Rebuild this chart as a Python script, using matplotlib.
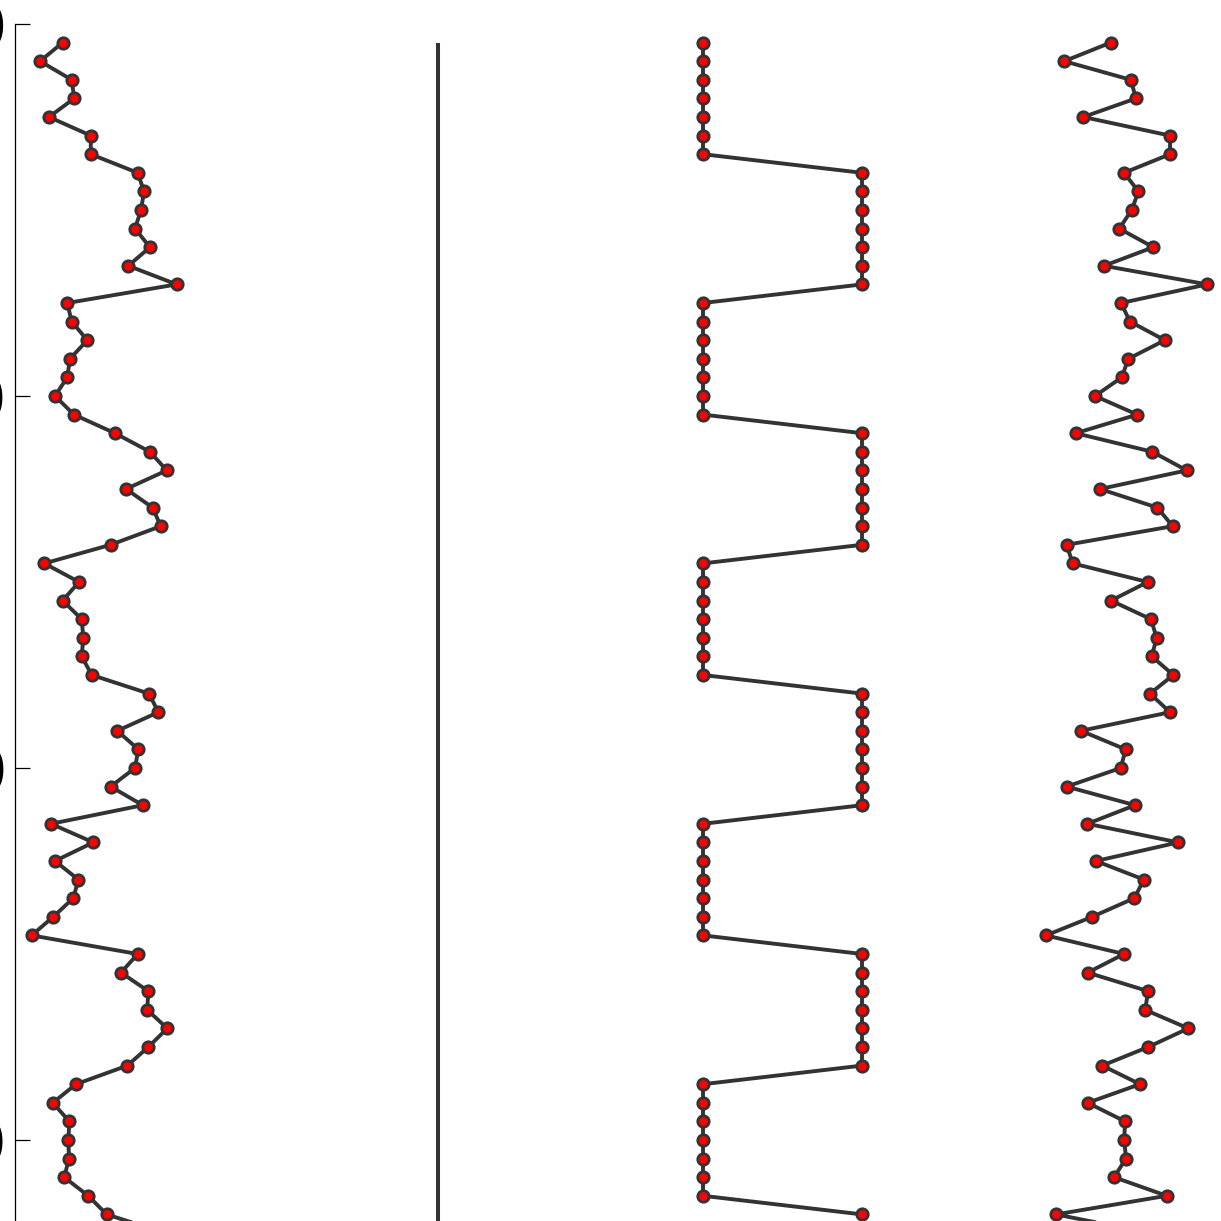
import numpy as np
import matplotlib
matplotlib.use("Agg")
import matplotlib.pyplot as plt

# ---- data (index runs down the y axis) ----
index = np.arange(1, 66)

series_a = [0.287, 0.145, 0.344, 0.360, 0.201, 0.464, 0.464, 0.759, 0.799, 0.780,
            0.742, 0.836, 0.700, 1.004, 0.316, 0.344, 0.442, 0.333, 0.316, 0.239,
            0.358, 0.616, 0.836, 0.942, 0.686, 0.853, 0.904, 0.589, 0.172, 0.390,
            0.287, 0.407, 0.417, 0.407, 0.470, 0.830, 0.889, 0.631, 0.763, 0.742,
            0.589, 0.791, 0.214, 0.480, 0.239, 0.386, 0.354, 0.228, 0.092, 0.759,
            0.654, 0.826, 0.819, 0.945, 0.826, 0.694, 0.371, 0.225, 0.329, 0.323,
            0.327, 0.297, 0.448, 0.564, 0.930]

series_b = [0.49] * 65

series_c = ([0] * 7 + [1] * 7) * 4 + [0] * 7 + [1] * 2

series_d = [0.407, 0.115, 0.533, 0.566, 0.235, 0.780, 0.780, 0.491, 0.581, 0.539,
            0.461, 0.675, 0.365, 1.014, 0.472, 0.528, 0.748, 0.518, 0.476, 0.308,
            0.574, 0.187, 0.669, 0.885, 0.340, 0.700, 0.797, 0.130, 0.168, 0.640,
            0.409, 0.660, 0.696, 0.665, 0.801, 0.654, 0.780, 0.220, 0.501, 0.470,
            0.130, 0.560, 0.260, 0.832, 0.314, 0.616, 0.555, 0.291, 0.000, 0.491,
            0.262, 0.643, 0.623, 0.895, 0.643, 0.354, 0.591, 0.262, 0.497, 0.492,
            0.503, 0.428, 0.759, 0.063, 0.650]

ytick_vals = [0, 20, 40, 60]
ytick_labels = ["0", "20", "40", "60"]

# ---- layout ----
W = 1221
fig = plt.figure(figsize=(12.21, 12.21), dpi=100)
ax = fig.add_axes([15 / W, 0, (W - 15) / W, 1])

offset_step = 343 / 159
line_col = "#333333"

for k, vals in enumerate([series_a, series_b, series_c, series_d]):
    x = np.asarray(vals, dtype=float) + k * offset_step
    if k == 1:
        ax.plot(x, index, color=line_col, lw=2.9, solid_capstyle="butt", clip_on=True)
    else:
        ax.plot(x, index, color=line_col, lw=2.8, marker="o", ms=8.2,
                mfc="#ff0000", mec=line_col, mew=2.0, clip_on=True)

ax.set_xlim((15 - 17) / 159, (W - 17) / 159)
ax.set_ylim((W - 24) / 18.6, -24 / 18.6)

for s in ["top", "right", "bottom"]:
    ax.spines[s].set_visible(False)
ax.spines["left"].set_bounds(0, (W - 24) / 18.6)
ax.spines["left"].set_linewidth(0.9)
ax.spines["left"].set_color("black")

ax.set_xticks([])
ax.set_yticks(ytick_vals)
ax.set_yticklabels(ytick_labels, fontweight="bold")
ax.tick_params(axis="y", direction="in", length=10.8, width=0.9, pad=6,
               labelsize=48, colors="black")
ax.patch.set_alpha(0)

fig.savefig("out.png", dpi=100)
